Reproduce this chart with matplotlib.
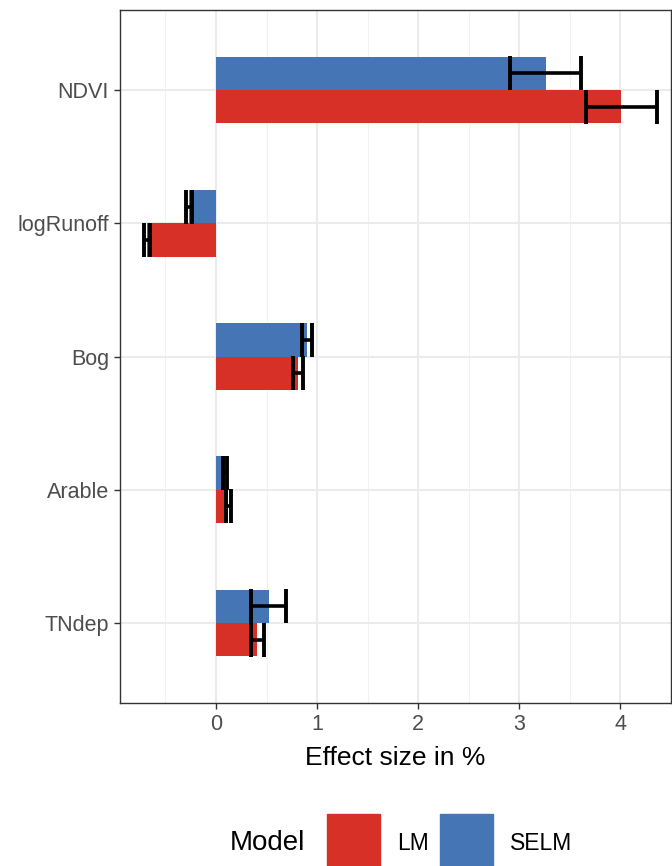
import matplotlib.pyplot as plt
from matplotlib.patches import Rectangle
import numpy as np

plt.rcParams['font.family'] = ['Liberation Sans', 'DejaVu Sans']

# data
variables = ["NDVI", "logRunoff", "Bog", "Arable", "TNdep"]
lm_est = [4.01, -0.68, 0.81, 0.12, 0.41]
lm_err = [0.35, 0.03, 0.05, 0.025, 0.06]
selm_est = [3.26, -0.27, 0.90, 0.09, 0.52]
selm_err = [0.35, 0.03, 0.05, 0.02, 0.175]
models = ["LM", "SELM"]
colors = ["#D73027", "#4575B4"]
x_ticks = [0, 1, 2, 3, 4]

fig = plt.figure(figsize=(6.72, 8.66), dpi=100)
ax = fig.add_axes([120 / 672, 163 / 866, 551 / 672, 693 / 866])

y = np.arange(len(variables))
h = 0.25
ax.barh(y - h / 2, selm_est, height=h, color=colors[1], zorder=3)
ax.barh(y + h / 2, lm_est, height=h, color=colors[0], zorder=3)

ekw = dict(fmt='none', ecolor='black', elinewidth=2.6, capsize=12.2, capthick=2.8, zorder=4)
ax.errorbar(selm_est, y - h / 2, xerr=selm_err, **ekw)
ax.errorbar(lm_est, y + h / 2, xerr=lm_err, **ekw)

ax.set_xlim(-0.95, 4.5)
ax.set_ylim(len(variables) - 0.4, -0.6)
ax.set_yticks(y)
ax.set_yticklabels(variables)
ax.set_xticks(x_ticks)
ax.set_xticks([-0.5, 0.5, 1.5, 2.5, 3.5, 4.5], minor=True)

ax.grid(True, which='major', color='#EBEBEB', linewidth=1.5, zorder=0)
ax.grid(True, which='minor', axis='x', color='#F2F2F2', linewidth=0.8, zorder=0)
ax.set_axisbelow(True)

for s in ax.spines.values():
    s.set_color('#333333')
    s.set_linewidth(1.0)
ax.tick_params(which='major', length=4.5, width=1.0, color='#333333',
               labelsize=15.5, labelcolor='#4D4D4D', pad=3.5)
ax.tick_params(which='minor', length=0)
ax.set_xlabel("Effect size in %", fontsize=19, color='black', labelpad=8)

# legend at the bottom
fig.text(305 / 672, 1 - 843 / 866, "Model", fontsize=20, ha='right', va='center')
key_x = [327, 440]
lab_x = [397, 510]
for i in range(2):
    fig.patches.append(Rectangle((key_x[i] / 672, 0), 53 / 672, 52 / 866,
                                 transform=fig.transFigure, color=colors[i]))
    fig.text(lab_x[i] / 672, 1 - 843 / 866, models[i], fontsize=16.5,
             ha='left', va='center')

fig.savefig("out.png", dpi=100)
